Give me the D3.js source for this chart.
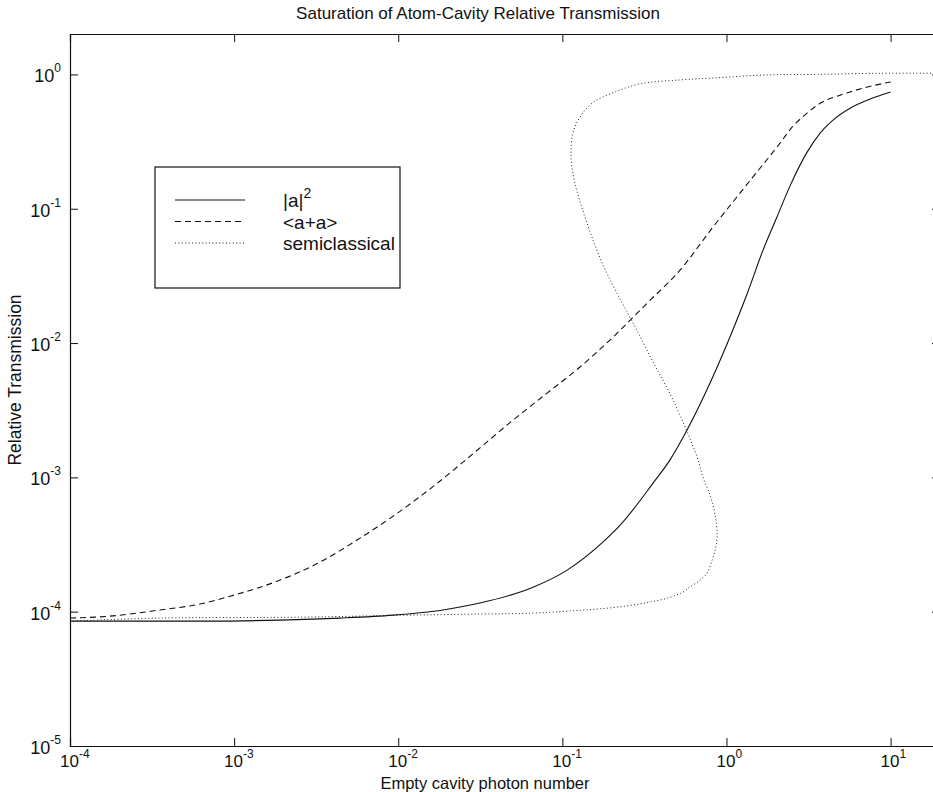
<!DOCTYPE html>
<html>
<head>
<meta charset="utf-8">
<script src="https://cdn.jsdelivr.net/npm/d3@7"></script>
<style>
  body { margin: 0; background: #fff; }
  text { font-family: "Liberation Sans", Arial, sans-serif; fill: #111; }
</style>
</head>
<body>
<div id="chart"></div>
<script>
// axis limits and decade ticks
const xLimits = [1e-4, 20];
const yLimits = [1e-5, 2];
const xTicks = [1e-4, 1e-3, 1e-2, 1e-1, 1e0, 1e1];
const yTicks = [1e-5, 1e-4, 1e-3, 1e-2, 1e-1, 1e0];

// |a|^2
const ampPhotons = [1e-4, 7.4e-4, 1.9e-3, 4.4e-3, 9.3e-3, 0.0187, 0.0315, 0.0663, 0.107, 0.182, 0.225, 0.357, 0.453, 0.575, 0.794, 1.05, 1.34, 1.67, 2.03, 2.44, 3.10, 3.72, 4.46, 5.66, 7.50, 10];
const ampTrans = [8.5e-5, 8.5e-5, 8.66e-5, 8.96e-5, 9.42e-5, 1.03e-4, 1.16e-4, 1.52e-4, 2.04e-4, 3.41e-4, 4.41e-4, 9.06e-4, 1.35e-3, 2.25e-3, 5.04e-3, 0.0111, 0.0235, 0.0492, 0.0867, 0.148, 0.264, 0.366, 0.457, 0.56, 0.656, 0.74];

// <a+a>
const numPhotons = [1e-4, 1.75e-4, 3.53e-4, 6.19e-4, 1.0e-3, 1.44e-3, 2.19e-3, 3.34e-3, 5.85e-3, 0.0103, 0.018, 0.0315, 0.0501, 0.0807, 0.128, 0.204, 0.328, 0.521, 0.828, 1.34, 2.12, 2.51, 3.01, 3.72, 4.92, 6.79, 10];
const numTrans = [8.96e-5, 9.26e-5, 1.03e-4, 1.14e-4, 1.33e-4, 1.52e-4, 1.84e-4, 2.34e-4, 3.53e-4, 5.61e-4, 9.4e-4, 1.66e-3, 2.67e-3, 4.24e-3, 6.63e-3, 0.0111, 0.0198, 0.0349, 0.0731, 0.153, 0.308, 0.405, 0.50, 0.61, 0.70, 0.79, 0.88];

// semiclassical (bistable, so it folds back on itself)
const semiPhotons = [1e-4, 3.5e-4, 2.5e-3, 0.0103, 0.0315, 0.0663, 0.107, 0.170, 0.270, 0.342, 0.435, 0.544, 0.600, 0.691, 0.762, 0.817, 0.853, 0.877, 0.853, 0.794, 0.720, 0.662, 0.473, 0.357, 0.274, 0.215, 0.177, 0.150, 0.130, 0.118, 0.113, 0.116, 0.128, 0.154, 0.204, 0.297, 0.521, 0.828, 1.67, 3.37, 8.63, 20];
const semiTrans = [8.5e-5, 8.96e-5, 9.1e-5, 9.4e-5, 9.6e-5, 9.75e-5, 1.01e-4, 1.05e-4, 1.12e-4, 1.18e-4, 1.26e-4, 1.40e-4, 1.53e-4, 1.72e-4, 1.94e-4, 2.42e-4, 2.87e-4, 3.59e-4, 5.24e-4, 7.38e-4, 1.0e-3, 1.42e-3, 3.76e-3, 7.22e-3, 0.0136, 0.0235, 0.0381, 0.0637, 0.1067, 0.164, 0.243, 0.366, 0.48, 0.62, 0.73, 0.85, 0.91, 0.94, 0.99, 1.0, 1.02, 1.02];

const legendLabels = ["|a|", "<a+a>", "semiclassical"];

const width = 933, height = 792;
const plotLeft = 70, plotRight = 940, plotTop = 34, plotBottom = 746;

const svg = d3.select("#chart").append("svg")
    .attr("width", width)
    .attr("height", height);

const x = d3.scaleLog().domain(xLimits).range([plotLeft, plotRight]);
const y = d3.scaleLog().domain(yLimits).range([plotBottom, plotTop]);

svg.append("clipPath").attr("id", "plotclip")
  .append("rect")
    .attr("x", plotLeft).attr("y", plotTop)
    .attr("width", plotRight - plotLeft).attr("height", plotBottom - plotTop);

// curves
const zip = (a, b) => a.map((v, i) => [v, b[i]]);
const smooth = d3.line().x(d => x(d[0])).y(d => y(d[1])).curve(d3.curveMonotoneX);
const fold = d3.line().x(d => x(d[0])).y(d => y(d[1])).curve(d3.curveCatmullRom.alpha(0.5));

const plot = svg.append("g").attr("clip-path", "url(#plotclip)");

plot.append("path")
    .attr("d", smooth(zip(ampPhotons, ampTrans)))
    .attr("fill", "none").attr("stroke", "#111").attr("stroke-width", 1.1);

plot.append("path")
    .attr("d", smooth(zip(numPhotons, numTrans)))
    .attr("fill", "none").attr("stroke", "#111").attr("stroke-width", 1.1)
    .attr("stroke-dasharray", "6,4");

plot.append("path")
    .attr("d", fold(zip(semiPhotons, semiTrans)))
    .attr("fill", "none").attr("stroke", "#222").attr("stroke-width", 1)
    .attr("stroke-dasharray", "1,2.4");

// axes box with inward ticks on all four sides
svg.append("g").attr("transform", `translate(0,${plotBottom})`)
    .call(d3.axisBottom(x).tickValues(xTicks).tickSize(-8).tickFormat(""));
svg.append("g").attr("transform", `translate(0,${plotTop})`)
    .call(d3.axisTop(x).tickValues(xTicks).tickSize(-8).tickFormat(""));
svg.append("g").attr("transform", `translate(${plotLeft},0)`)
    .call(d3.axisLeft(y).tickValues(yTicks).tickSize(-8).tickFormat(""));
svg.append("g").attr("transform", `translate(${plotRight},0)`)
    .call(d3.axisRight(y).tickValues(yTicks).tickSize(-8).tickFormat(""));
svg.selectAll(".domain").attr("stroke", "#111").attr("stroke-width", 1.2);
svg.selectAll(".tick line").attr("stroke", "#111");

// tick labels as 10 with exponent
const expo = v => Math.round(Math.log10(v));

const xl = svg.append("g").selectAll("text").data(xTicks).join("text")
    .attr("x", d => x(d) - 10)
    .attr("y", 767)
    .style("font-size", "17px");
xl.append("tspan").text("10");
xl.append("tspan").attr("dy", -9).style("font-size", "12px").text(d => expo(d));

const yl = svg.append("g").selectAll("text").data(yTicks).join("text")
    .attr("x", 61)
    .attr("y", d => y(d) + 8)
    .attr("text-anchor", "end")
    .style("font-size", "18px");
yl.append("tspan").text("10");
yl.append("tspan").attr("dy", -10).style("font-size", "12px").text(d => expo(d));

// titles
svg.append("text")
    .attr("x", 478).attr("y", 19)
    .attr("text-anchor", "middle")
    .style("font-size", "17px")
    .text("Saturation of Atom-Cavity Relative Transmission");

svg.append("text")
    .attr("x", 485).attr("y", 789)
    .attr("text-anchor", "middle")
    .style("font-size", "16.5px")
    .text("Empty cavity photon number");

svg.append("text")
    .attr("transform", "translate(21,380) rotate(-90)")
    .attr("text-anchor", "middle")
    .style("font-size", "17.5px")
    .text("Relative Transmission");

// legend
const legend = svg.append("g").attr("transform", "translate(155,167)");
legend.append("rect")
    .attr("width", 245).attr("height", 121)
    .attr("fill", "#fff").attr("stroke", "#111").attr("stroke-width", 1.2);

const dashes = [null, "6,4", "1,2.4"];
legendLabels.forEach((label, i) => {
  const ly = 33 + i * 21.5;
  legend.append("line")
      .attr("x1", 20).attr("x2", 90)
      .attr("y1", ly).attr("y2", ly)
      .attr("stroke", "#111").attr("stroke-width", 1)
      .attr("stroke-dasharray", dashes[i]);
  const t = legend.append("text")
      .attr("x", 128).attr("y", ly + 7)
      .style("font-size", "19px")
      .text(label);
  if (i === 0) t.append("tspan").attr("dy", -9).style("font-size", "14px").text("2");
});
</script>
</body>
</html>
